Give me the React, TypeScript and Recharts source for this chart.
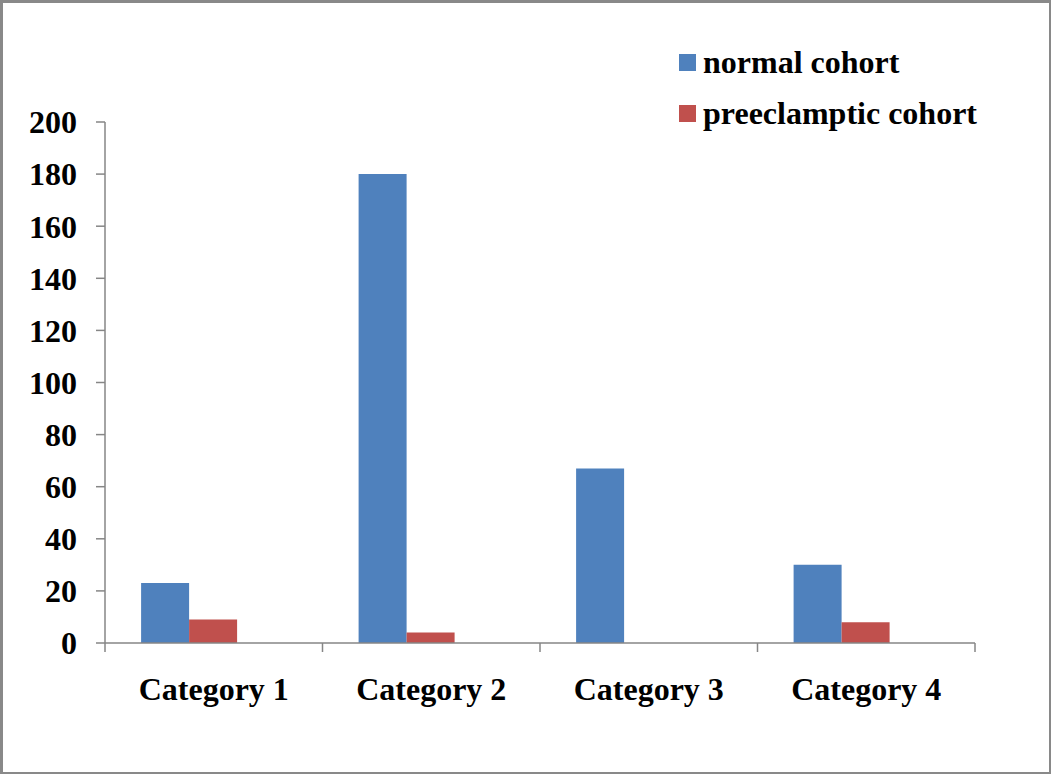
import * as React from "react";
import { BarChart, Bar, XAxis, YAxis, Legend } from "recharts";

const categories = ["Category 1", "Category 2", "Category 3", "Category 4"];
const normalCohort = [23, 180, 67, 30];
const preeclampticCohort = [9, 4, 0, 8];
// third, empty series (keeps the bars off-centre as in the original)
const emptySeries: (number | null)[] = [null, null, null, null];
const yTicks = [0, 20, 40, 60, 80, 100, 120, 140, 160, 180, 200];

const data = categories.map((name, i) => ({
  name,
  normal: normalCohort[i],
  pre: preeclampticCohort[i],
  empty: emptySeries[i],
}));

const AXIS = "#868686";
const FONT = "'Liberation Serif', 'Times New Roman', serif";
const FS = 32;

// category label plus tick marks on the category boundaries
function CatTick(props: any) {
  const { x, y, payload, index, visibleTicksCount } = props;
  const half = payload?.offset ?? 0;
  const last = index === visibleTicksCount - 1;
  return (
    <g>
      <line x1={x - half} x2={x - half} y1={y - 35} y2={y - 26} stroke={AXIS} strokeWidth={1.5} />
      {last && (
        <line x1={x + half} x2={x + half} y1={y - 35} y2={y - 26} stroke={AXIS} strokeWidth={1.5} />
      )}
      <text
        x={x}
        y={y}
        dy="0.69em"
        textAnchor="middle"
        fill="#000"
        fontFamily={FONT}
        fontWeight={700}
        fontSize={FS}
      >
        {payload.value}
      </text>
    </g>
  );
}

function LegendBox({ payload }: any) {
  const items = (payload || []).filter((p: any) => p.type !== "none");
  return (
    <div style={{ fontFamily: FONT, fontWeight: 700, fontSize: FS }}>
      {items.map((p: any) => (
        <div
          key={p.value}
          style={{ display: "flex", alignItems: "center", height: 51 }}
        >
          <span
            style={{
              display: "inline-block",
              width: 17,
              height: 17,
              background: p.color,
              marginRight: 7,
            }}
          />
          <span style={{ color: "#000" }}>{p.value}</span>
        </div>
      ))}
    </div>
  );
}

export default function App() {
  return (
    <div
      style={{
        position: "absolute",
        left: 0,
        top: 0,
        width: 1051,
        height: 774,
        boxSizing: "border-box",
        border: "2px solid #898989",
        borderTopWidth: 3,
        borderLeftWidth: 3,
        background: "#fff",
      }}
    >
      <div style={{ position: "absolute", left: -3, top: -3 }}>
        <BarChart
          width={1051}
          height={774}
          data={data}
          margin={{ top: 122, right: 76, bottom: 71, left: 0 }}
          barCategoryGap="16.6%"
          barGap={0}
        >
          <YAxis
            width={105}
            domain={[0, 200]}
            ticks={yTicks}
            interval={0}
            stroke={AXIS}
            strokeWidth={1.5}
            tickSize={9}
            tickMargin={19}
            tick={{ fill: "#000", fontFamily: FONT, fontWeight: 700, fontSize: FS }}
          />
          <XAxis
            dataKey="name"
            height={60}
            interval={0}
            tickLine={false}
            tickSize={0}
            tickMargin={35}
            stroke={AXIS}
            strokeWidth={1.5}
            tick={<CatTick />}
          />
          <Legend
            layout="horizontal"
            verticalAlign="middle"
            align="center"
            content={<LegendBox />}
            wrapperStyle={{ position: "absolute", left: 679, top: 37, width: 370 }}
          />
          <Bar dataKey="normal" name="normal cohort" fill="#4F81BD" isAnimationActive={false} />
          <Bar dataKey="pre" name="preeclamptic cohort" fill="#C0504D" isAnimationActive={false} />
          <Bar
            dataKey="empty"
            name="Series 3"
            fill="#9BBB59"
            legendType="none"
            isAnimationActive={false}
          />
        </BarChart>
      </div>
    </div>
  );
}
